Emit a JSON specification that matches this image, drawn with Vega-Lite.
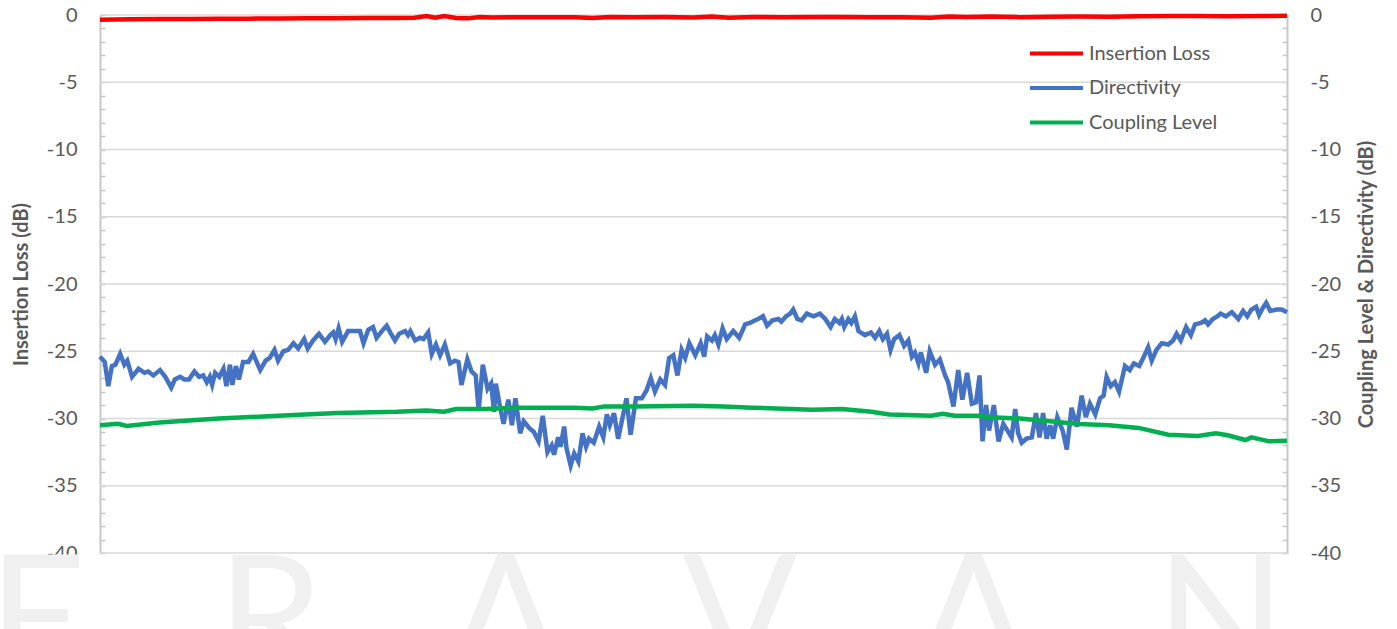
{
  "$schema": "https://vega.github.io/schema/vega-lite/v6.json",
  "width": 1187,
  "height": 538,
  "autosize": {"type": "none"},
  "padding": {"left": 100, "top": 15, "right": 110, "bottom": 76},
  "background": "white",
  "config": {
    "font": "Lato",
    "view": {"stroke": null},
    "axis": {
      "labelFont": "Lato", "labelFontSize": 20, "labelColor": "#595959",
      "titleFont": "Lato", "titleFontSize": 20, "titleFontWeight": "bold", "titleColor": "#595959",
      "domainColor": "#c8c8c8", "domainWidth": 2,
      "tickColor": "#c8c8c8", "tickWidth": 1.5, "tickSize": -5,
      "gridColor": "#d9d9d9", "gridWidth": 1.5,
      "labelOverlap": false, "labelBound": false, "labelFlush": false
    },
    "legend": {
      "orient": "none", "legendX": 941, "legendY": 23,
      "symbolType": "M-2,0H2", "symbolSize": 702, "symbolStrokeWidth": 4,
      "labelFont": "Lato", "labelFontSize": 20, "labelColor": "#595959",
      "labelOffset": 17, "rowPadding": 8.5, "padding": 0
    }
  },
  "datasets": {
    "grid": [{"g": -40}, {"g": -35}, {"g": -30}, {"g": -25}, {"g": -20}, {"g": -15}, {"g": -10}, {"g": -5}, {"g": 0}],
    "il": [
      {"f": 40.0, "v": -0.35}, {"f": 40.5, "v": -0.32}, {"f": 41.0, "v": -0.3}, {"f": 41.5, "v": -0.3},
      {"f": 42.0, "v": -0.28}, {"f": 42.5, "v": -0.27}, {"f": 43.0, "v": -0.26}, {"f": 43.5, "v": -0.25},
      {"f": 44.0, "v": -0.24}, {"f": 44.5, "v": -0.23}, {"f": 45.0, "v": -0.22}, {"f": 45.3, "v": -0.2},
      {"f": 45.5, "v": -0.08}, {"f": 45.65, "v": -0.2}, {"f": 45.8, "v": -0.08}, {"f": 46.0, "v": -0.22},
      {"f": 46.2, "v": -0.25}, {"f": 46.4, "v": -0.15}, {"f": 46.6, "v": -0.18}, {"f": 47.0, "v": -0.17},
      {"f": 47.5, "v": -0.16}, {"f": 48.0, "v": -0.16}, {"f": 48.3, "v": -0.22}, {"f": 48.6, "v": -0.15},
      {"f": 49.0, "v": -0.16}, {"f": 49.5, "v": -0.15}, {"f": 50.0, "v": -0.18}, {"f": 50.3, "v": -0.12},
      {"f": 50.6, "v": -0.2}, {"f": 51.0, "v": -0.15}, {"f": 51.5, "v": -0.16}, {"f": 52.0, "v": -0.15},
      {"f": 52.5, "v": -0.15}, {"f": 53.0, "v": -0.17}, {"f": 53.5, "v": -0.17}, {"f": 54.0, "v": -0.2},
      {"f": 54.3, "v": -0.12}, {"f": 54.6, "v": -0.15}, {"f": 55.0, "v": -0.12}, {"f": 55.5, "v": -0.16},
      {"f": 56.0, "v": -0.13}, {"f": 56.5, "v": -0.12}, {"f": 57.0, "v": -0.13}, {"f": 57.5, "v": -0.1},
      {"f": 58.0, "v": -0.08}, {"f": 58.5, "v": -0.08}, {"f": 59.0, "v": -0.1}, {"f": 59.5, "v": -0.08},
      {"f": 60.0, "v": -0.05}
    ],
    "dir": [
      {"f": 40.00, "v": -25.4}, {"f": 40.08, "v": -25.8}, {"f": 40.14, "v": -27.6}, {"f": 40.20, "v": -26.1},
      {"f": 40.26, "v": -26.0}, {"f": 40.34, "v": -25.2}, {"f": 40.41, "v": -26.0}, {"f": 40.46, "v": -25.7},
      {"f": 40.54, "v": -26.9}, {"f": 40.65, "v": -26.3}, {"f": 40.75, "v": -26.6}, {"f": 40.81, "v": -26.5},
      {"f": 40.90, "v": -26.8}, {"f": 41.01, "v": -26.4}, {"f": 41.10, "v": -26.9}, {"f": 41.20, "v": -27.7},
      {"f": 41.26, "v": -27.1}, {"f": 41.35, "v": -26.9}, {"f": 41.42, "v": -27.1}, {"f": 41.50, "v": -27.1},
      {"f": 41.59, "v": -26.5}, {"f": 41.67, "v": -26.9}, {"f": 41.74, "v": -26.8}, {"f": 41.80, "v": -27.3},
      {"f": 41.85, "v": -26.9}, {"f": 41.89, "v": -27.5}, {"f": 41.94, "v": -26.6}, {"f": 42.01, "v": -26.9},
      {"f": 42.08, "v": -26.3}, {"f": 42.13, "v": -27.6}, {"f": 42.19, "v": -26.0}, {"f": 42.23, "v": -27.5},
      {"f": 42.29, "v": -26.1}, {"f": 42.34, "v": -27.1}, {"f": 42.41, "v": -25.8}, {"f": 42.50, "v": -25.8},
      {"f": 42.58, "v": -25.2}, {"f": 42.70, "v": -26.4}, {"f": 42.79, "v": -25.7}, {"f": 42.86, "v": -25.5},
      {"f": 42.94, "v": -24.9}, {"f": 43.00, "v": -25.7}, {"f": 43.09, "v": -25.0}, {"f": 43.17, "v": -24.9},
      {"f": 43.26, "v": -24.4}, {"f": 43.34, "v": -24.8}, {"f": 43.44, "v": -24.1}, {"f": 43.50, "v": -24.8},
      {"f": 43.59, "v": -24.2}, {"f": 43.69, "v": -23.7}, {"f": 43.79, "v": -24.3}, {"f": 43.88, "v": -23.8},
      {"f": 43.93, "v": -23.6}, {"f": 43.97, "v": -24.1}, {"f": 44.02, "v": -23.3}, {"f": 44.08, "v": -24.3},
      {"f": 44.18, "v": -23.5}, {"f": 44.30, "v": -23.5}, {"f": 44.38, "v": -23.5}, {"f": 44.44, "v": -24.4},
      {"f": 44.52, "v": -23.4}, {"f": 44.60, "v": -23.2}, {"f": 44.66, "v": -24.0}, {"f": 44.75, "v": -23.5},
      {"f": 44.83, "v": -23.1}, {"f": 44.89, "v": -23.6}, {"f": 44.97, "v": -24.2}, {"f": 45.04, "v": -23.7},
      {"f": 45.14, "v": -23.5}, {"f": 45.19, "v": -23.8}, {"f": 45.23, "v": -23.5}, {"f": 45.31, "v": -24.2},
      {"f": 45.39, "v": -24.0}, {"f": 45.45, "v": -24.1}, {"f": 45.53, "v": -23.6}, {"f": 45.59, "v": -25.2},
      {"f": 45.66, "v": -24.5}, {"f": 45.73, "v": -25.3}, {"f": 45.81, "v": -24.5}, {"f": 45.90, "v": -25.9},
      {"f": 45.98, "v": -25.7}, {"f": 46.04, "v": -25.8}, {"f": 46.09, "v": -27.5}, {"f": 46.19, "v": -25.6},
      {"f": 46.26, "v": -26.5}, {"f": 46.33, "v": -26.8}, {"f": 46.38, "v": -29.4}, {"f": 46.45, "v": -26.0},
      {"f": 46.53, "v": -27.8}, {"f": 46.59, "v": -27.4}, {"f": 46.64, "v": -29.5}, {"f": 46.67, "v": -27.4},
      {"f": 46.73, "v": -28.9}, {"f": 46.80, "v": -30.4}, {"f": 46.88, "v": -28.6}, {"f": 46.94, "v": -30.5},
      {"f": 47.00, "v": -28.5}, {"f": 47.08, "v": -31.1}, {"f": 47.14, "v": -30.2}, {"f": 47.23, "v": -30.7},
      {"f": 47.31, "v": -31.0}, {"f": 47.39, "v": -31.7}, {"f": 47.46, "v": -29.8}, {"f": 47.54, "v": -32.5},
      {"f": 47.61, "v": -32.0}, {"f": 47.65, "v": -32.7}, {"f": 47.72, "v": -31.4}, {"f": 47.76, "v": -32.1},
      {"f": 47.82, "v": -30.6}, {"f": 47.86, "v": -32.2}, {"f": 47.93, "v": -33.5}, {"f": 47.99, "v": -32.6},
      {"f": 48.06, "v": -33.2}, {"f": 48.13, "v": -31.1}, {"f": 48.19, "v": -32.1}, {"f": 48.24, "v": -31.5},
      {"f": 48.32, "v": -31.8}, {"f": 48.41, "v": -30.6}, {"f": 48.48, "v": -31.4}, {"f": 48.54, "v": -29.7},
      {"f": 48.59, "v": -30.5}, {"f": 48.66, "v": -29.6}, {"f": 48.73, "v": -31.5}, {"f": 48.82, "v": -29.6},
      {"f": 48.87, "v": -28.5}, {"f": 48.94, "v": -31.2}, {"f": 49.03, "v": -28.5}, {"f": 49.13, "v": -28.5},
      {"f": 49.21, "v": -27.9}, {"f": 49.28, "v": -27.0}, {"f": 49.35, "v": -28.0}, {"f": 49.44, "v": -27.1},
      {"f": 49.52, "v": -27.5}, {"f": 49.59, "v": -25.5}, {"f": 49.66, "v": -25.3}, {"f": 49.73, "v": -26.8},
      {"f": 49.80, "v": -24.9}, {"f": 49.86, "v": -25.5}, {"f": 49.93, "v": -24.4}, {"f": 50.03, "v": -25.3},
      {"f": 50.12, "v": -24.4}, {"f": 50.18, "v": -25.4}, {"f": 50.23, "v": -23.9}, {"f": 50.31, "v": -24.2},
      {"f": 50.36, "v": -23.8}, {"f": 50.42, "v": -24.5}, {"f": 50.49, "v": -23.3}, {"f": 50.56, "v": -24.1},
      {"f": 50.67, "v": -23.5}, {"f": 50.77, "v": -24.0}, {"f": 50.87, "v": -23.0}, {"f": 50.95, "v": -22.9},
      {"f": 51.04, "v": -22.7}, {"f": 51.09, "v": -22.6}, {"f": 51.17, "v": -22.4}, {"f": 51.24, "v": -23.1},
      {"f": 51.33, "v": -22.7}, {"f": 51.43, "v": -22.6}, {"f": 51.48, "v": -22.8}, {"f": 51.56, "v": -22.4},
      {"f": 51.63, "v": -22.2}, {"f": 51.68, "v": -21.9}, {"f": 51.75, "v": -22.6}, {"f": 51.82, "v": -22.7},
      {"f": 51.91, "v": -22.2}, {"f": 52.02, "v": -22.4}, {"f": 52.13, "v": -22.2}, {"f": 52.22, "v": -22.6},
      {"f": 52.31, "v": -23.2}, {"f": 52.38, "v": -22.6}, {"f": 52.46, "v": -22.9}, {"f": 52.50, "v": -22.6},
      {"f": 52.54, "v": -23.2}, {"f": 52.61, "v": -22.6}, {"f": 52.66, "v": -22.9}, {"f": 52.72, "v": -22.4},
      {"f": 52.78, "v": -23.5}, {"f": 52.89, "v": -23.8}, {"f": 52.99, "v": -23.6}, {"f": 53.06, "v": -24.0},
      {"f": 53.13, "v": -23.5}, {"f": 53.19, "v": -24.1}, {"f": 53.26, "v": -23.7}, {"f": 53.32, "v": -24.9},
      {"f": 53.38, "v": -24.1}, {"f": 53.47, "v": -23.8}, {"f": 53.55, "v": -24.6}, {"f": 53.62, "v": -24.2},
      {"f": 53.68, "v": -25.4}, {"f": 53.73, "v": -25.1}, {"f": 53.79, "v": -25.9}, {"f": 53.83, "v": -25.1},
      {"f": 53.92, "v": -26.6}, {"f": 53.98, "v": -25.0}, {"f": 54.07, "v": -26.0}, {"f": 54.15, "v": -25.6},
      {"f": 54.24, "v": -26.8}, {"f": 54.29, "v": -27.3}, {"f": 54.38, "v": -29.1}, {"f": 54.46, "v": -26.4},
      {"f": 54.53, "v": -28.6}, {"f": 54.61, "v": -26.6}, {"f": 54.69, "v": -28.9}, {"f": 54.76, "v": -28.8},
      {"f": 54.82, "v": -26.8}, {"f": 54.87, "v": -31.7}, {"f": 54.93, "v": -29.0}, {"f": 54.98, "v": -30.9},
      {"f": 55.06, "v": -29.0}, {"f": 55.14, "v": -31.7}, {"f": 55.22, "v": -30.4}, {"f": 55.29, "v": -30.9},
      {"f": 55.36, "v": -31.4}, {"f": 55.42, "v": -29.3}, {"f": 55.47, "v": -31.1}, {"f": 55.53, "v": -31.8},
      {"f": 55.61, "v": -31.5}, {"f": 55.70, "v": -31.4}, {"f": 55.77, "v": -29.6}, {"f": 55.83, "v": -31.4},
      {"f": 55.89, "v": -29.6}, {"f": 55.95, "v": -31.5}, {"f": 56.01, "v": -30.5}, {"f": 56.06, "v": -31.5},
      {"f": 56.13, "v": -29.9}, {"f": 56.22, "v": -30.9}, {"f": 56.29, "v": -32.3}, {"f": 56.37, "v": -29.2},
      {"f": 56.46, "v": -30.6}, {"f": 56.54, "v": -28.3}, {"f": 56.61, "v": -29.9}, {"f": 56.68, "v": -28.9},
      {"f": 56.77, "v": -29.7}, {"f": 56.85, "v": -28.5}, {"f": 56.91, "v": -28.3}, {"f": 56.96, "v": -26.9},
      {"f": 57.03, "v": -27.6}, {"f": 57.10, "v": -27.3}, {"f": 57.17, "v": -28.0}, {"f": 57.27, "v": -26.1},
      {"f": 57.35, "v": -26.4}, {"f": 57.42, "v": -25.9}, {"f": 57.51, "v": -26.1}, {"f": 57.59, "v": -25.4},
      {"f": 57.66, "v": -24.7}, {"f": 57.72, "v": -25.7}, {"f": 57.80, "v": -24.9}, {"f": 57.89, "v": -24.4},
      {"f": 58.00, "v": -24.5}, {"f": 58.08, "v": -24.2}, {"f": 58.14, "v": -23.7}, {"f": 58.21, "v": -24.2},
      {"f": 58.30, "v": -23.2}, {"f": 58.38, "v": -23.8}, {"f": 58.45, "v": -23.0}, {"f": 58.55, "v": -22.9},
      {"f": 58.62, "v": -22.7}, {"f": 58.67, "v": -23.0}, {"f": 58.75, "v": -22.6}, {"f": 58.83, "v": -22.4},
      {"f": 58.88, "v": -22.2}, {"f": 58.97, "v": -22.4}, {"f": 59.07, "v": -22.1}, {"f": 59.18, "v": -22.6},
      {"f": 59.26, "v": -22.0}, {"f": 59.33, "v": -22.4}, {"f": 59.40, "v": -21.9}, {"f": 59.48, "v": -21.7},
      {"f": 59.53, "v": -22.3}, {"f": 59.59, "v": -21.8}, {"f": 59.65, "v": -21.4}, {"f": 59.72, "v": -22.0},
      {"f": 59.83, "v": -21.9}, {"f": 59.91, "v": -21.9}, {"f": 60.00, "v": -22.1}
    ],
    "cpl": [
      {"f": 40.0, "v": -30.5}, {"f": 40.3, "v": -30.4}, {"f": 40.45, "v": -30.55}, {"f": 41.0, "v": -30.3},
      {"f": 42.0, "v": -30.0}, {"f": 43.0, "v": -29.8}, {"f": 44.0, "v": -29.6}, {"f": 45.0, "v": -29.5},
      {"f": 45.5, "v": -29.4}, {"f": 45.8, "v": -29.5}, {"f": 46.0, "v": -29.3}, {"f": 46.5, "v": -29.3},
      {"f": 47.0, "v": -29.2}, {"f": 48.0, "v": -29.2}, {"f": 48.3, "v": -29.25}, {"f": 48.5, "v": -29.1},
      {"f": 49.0, "v": -29.1}, {"f": 50.0, "v": -29.05}, {"f": 50.5, "v": -29.1}, {"f": 51.0, "v": -29.2},
      {"f": 52.0, "v": -29.35}, {"f": 52.5, "v": -29.3}, {"f": 53.0, "v": -29.5}, {"f": 53.3, "v": -29.7},
      {"f": 54.0, "v": -29.8}, {"f": 54.2, "v": -29.65}, {"f": 54.4, "v": -29.8}, {"f": 54.8, "v": -29.8},
      {"f": 55.0, "v": -29.9}, {"f": 55.5, "v": -30.0}, {"f": 56.0, "v": -30.2}, {"f": 56.5, "v": -30.4},
      {"f": 57.0, "v": -30.5}, {"f": 57.5, "v": -30.7}, {"f": 58.0, "v": -31.2}, {"f": 58.5, "v": -31.3},
      {"f": 58.8, "v": -31.1}, {"f": 59.0, "v": -31.25}, {"f": 59.3, "v": -31.6}, {"f": 59.4, "v": -31.4},
      {"f": 59.7, "v": -31.7}, {"f": 60.0, "v": -31.65}
    ],
    "one": [{"n": 1}]
  },
  "layer": [
    {
      "data": {"name": "grid"},
      "mark": {"type": "rule", "color": "#d9d9d9", "strokeWidth": 1.5},
      "encoding": {
        "x": {"datum": 40, "type": "quantitative", "axis": null},
        "x2": {"datum": 60},
        "y": {"field": "g", "type": "quantitative", "axis": null}
      }
    },
    {
      "data": {"name": "one"},
      "mark": {"type": "text", "text": "E\u00a0\u00a0\u00a0R\u00a0\u00a0\u00a0A\u00a0\u00a0\u00a0V\u00a0\u00a0\u00a0A\u00a0\u00a0\u00a0N\u00a0\u00a0\u00a0T", "fontSize": 170, "font": "Lato", "color": "#f0f0f0", "align": "center", "baseline": "alphabetic", "clip": false},
      "encoding": {
        "x": {"datum": 50.95, "type": "quantitative", "axis": null},
        "y": {"datum": -49.2, "type": "quantitative", "axis": null}
      }
    },
    {
      "encoding": {
        "x": {
          "field": "f", "type": "quantitative",
          "scale": {"domain": [40, 60], "nice": false, "zero": false},
          "axis": {
            "title": "Frequency (GHz)",
            "grid": true,
            "zindex": 1,
            "values": [40, 40.4, 40.8, 41.2, 41.6, 42, 42.4, 42.8, 43.2, 43.6, 44, 44.4, 44.8, 45.2, 45.6, 46, 46.4, 46.8, 47.2, 47.6, 48, 48.4, 48.8, 49.2, 49.6, 50, 50.4, 50.8, 51.2, 51.6, 52, 52.4, 52.8, 53.2, 53.6, 54, 54.4, 54.8, 55.2, 55.6, 56, 56.4, 56.8, 57.2, 57.6, 58, 58.4, 58.8, 59.2, 59.6, 60],
            "labelExpr": "abs(datum.value - round(datum.value / 2) * 2) < 0.01 ? '' + round(datum.value) : ''",
            "gridOpacity": {"condition": {"test": "abs(datum.value - round(datum.value / 2) * 2) < 0.01", "value": 1}, "value": 0},
            "labelPadding": 30,
            "titleY": 63, "titleBaseline": "alphabetic"
          }
        }
      },
      "layer": [
        {
          "data": {"name": "il"},
          "mark": {"type": "line", "strokeWidth": 4.5, "clip": false},
          "encoding": {
            "y": {
              "field": "v", "type": "quantitative",
              "scale": {"domain": [-40, 0], "nice": false, "zero": false},
              "axis": {
                "orient": "left", "title": "Insertion Loss (dB)",
                "grid": false,
                "values": [-40, -39, -38, -37, -36, -35, -34, -33, -32, -31, -30, -29, -28, -27, -26, -25, -24, -23, -22, -21, -20, -19, -18, -17, -16, -15, -14, -13, -12, -11, -10, -9, -8, -7, -6, -5, -4, -3, -2, -1, 0],
                "labelExpr": "datum.value % 5 == 0 ? '' + datum.value : ''",
                "labelPadding": 28,
                "titleX": -73, "titleAngle": 270, "titleBaseline": "alphabetic"
              }
            },
            "color": {
              "datum": "Insertion Loss",
              "scale": {"domain": ["Insertion Loss", "Directivity", "Coupling Level"], "range": ["#ff0000", "#4472c4", "#00b050"]},
              "legend": {"title": null}
            }
          }
        },
        {
          "encoding": {
            "y": {
              "field": "v", "type": "quantitative",
              "axis": {
                "orient": "right", "title": "Coupling Level & Directivity (dB)",
                "values": [-40, -39, -38, -37, -36, -35, -34, -33, -32, -31, -30, -29, -28, -27, -26, -25, -24, -23, -22, -21, -20, -19, -18, -17, -16, -15, -14, -13, -12, -11, -10, -9, -8, -7, -6, -5, -4, -3, -2, -1, 0],
                "labelExpr": "datum.value % 5 == 0 ? '' + datum.value : ''",
                "grid": false,
                "labelPadding": 28,
                "titleX": 85, "titleAngle": 270, "titleBaseline": "alphabetic"
              }
            }
          },
          "layer": [
            {
              "data": {"name": "dir"},
              "mark": {"type": "line", "strokeWidth": 4.5},
              "encoding": {"color": {"datum": "Directivity"}}
            },
            {
              "data": {"name": "cpl"},
              "mark": {"type": "line", "strokeWidth": 4.5},
              "encoding": {"color": {"datum": "Coupling Level"}}
            }
          ]
        }
      ],
      "resolve": {"scale": {"y": "shared"}, "axis": {"y": "independent"}}
    }
  ],
  "resolve": {"scale": {"y": "shared"}, "axis": {"y": "independent"}}
}
